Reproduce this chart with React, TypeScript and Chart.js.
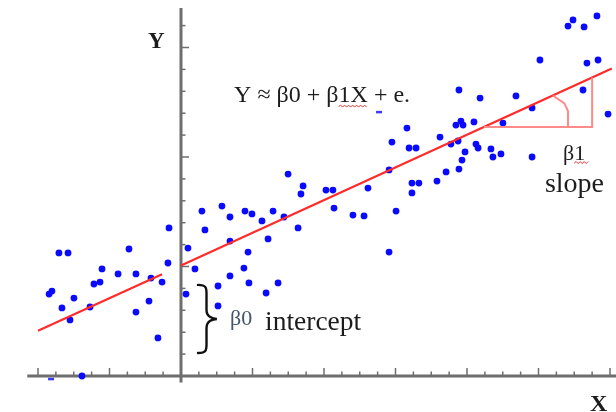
import React, { useEffect, useRef } from "react";
import { Chart, registerables } from "chart.js";
Chart.register(...registerables);

// Scatter observations (x in minor-tick units on X, y in minor-tick units on Y)
const pointsX = [-0.67,-6.83,-6.32,-2.91,-0.73,-4.42,-3.52,-2.52,-1.68,-4.87,-4.53,-1.06,-7.22,-7.38,-5.99,-1.79,-6.66,-5.09,-2.52,-6.21,-1.29,-5.54,
0.39,0.28,0.78,1.17,1.34,2.07,2.07,2.29,2.74,2.74,2.74,3.52,3.58,3.75,3.80,3.97,4.53,4.76,4.87,5.15,5.43,5.76,5.99,6.55,6.71,6.83,
8.11,8.50,8.56,9.62,10.24,10.46,11.64,11.64,12.03,12.92,13.31,12.92,11.80,12.64,12.76,13.15,
14.32,14.49,14.83,15.10,15.50,15.55,15.72,15.89,15.38,15.66,15.78,16.39,16.50,16.62,17.34,17.45,17.90,18.01,15.55,16.73,18.74,19.64,19.64,20.08,22.49,23.89,22.71,23.33,21.65,21.93,22.55,23.27];
const pointsY = [6.76,5.62,5.62,5.80,5.16,4.89,4.66,4.66,4.47,4.20,4.29,4.29,3.88,3.74,3.56,3.42,3.11,3.15,2.92,2.56,1.74,0,
5.84,3.74,4.89,7.53,6.67,4.11,3.20,7.76,7.26,6.16,4.57,4.93,7.53,5.66,4.25,7.40,7.08,3.79,6.26,7.53,4.25,7.26,9.22,6.76,8.31,8.68,
8.49,8.49,7.67,7.35,7.31,8.58,9.41,5.66,7.53,8.81,8.81,8.36,10.68,11.32,10.41,10.41,
8.90,10.91,9.32,10.59,10.73,9.45,9.86,10.23,11.46,11.64,11.46,11.60,10.59,10.41,10.37,10.00,10.14,11.55,13.06,12.69,12.79,12.24,10.00,14.43,13.06,11.96,14.29,14.43,15.98,16.26,15.94,16.44];
// partially hidden points
const hiddenX = [-7.27, 11.08];
const hiddenY = [-0.14, 12.05];

// Regression line (two segments)
const fitLeftX = [-8, -1.06];
const fitLeftY = [2.07, 4.65];
const fitRightX = [0, 24.1];
const fitRightY = [5.05, 14.04];

// Slope triangle and angle mark
const triX = [16.94, 23, 23];
const triY = [11.37, 11.37, 13.63];
const angX = [20.8, 21.45, 21.65, 21.65];
const angY = [12.81, 12.45, 12.1, 11.37];

// Axis ticks
const xTickValues = [-8,-7,-6,-5,-4,-3,-2,-1,1,2,3,4,5,6,7,8,9,10,11,12,13,14,15,16,17,18,19,20,21,22,23,24];
const yTickValues = [1,2,3,4,5,6,7,8,9,10,11,12,13,14,15,16];
const xMajorEvery = 4;
const yMajorEvery = 5;
const xAxisStart = -8.6;
const yAxisRange = [-0.3, 16.8];

const SERIF = '"Liberation Serif", "Times New Roman", serif';
const AXIS_COLOR = "#6e6e6e";
const TEXT_COLOR = "#1c1c1c";

const toXY = (xs: number[], ys: number[]) => xs.map((x, i) => ({ x, y: ys[i] }));

function squiggle(ctx: CanvasRenderingContext2D, x1: number, x2: number, y: number) {
  ctx.save();
  ctx.strokeStyle = "#e03030";
  ctx.lineWidth = 1;
  ctx.beginPath();
  let up = true;
  ctx.moveTo(x1, y);
  for (let x = x1 + 2; x <= x2; x += 2) {
    ctx.lineTo(x, up ? y - 1.5 : y + 0.5);
    up = !up;
  }
  ctx.stroke();
  ctx.restore();
}

const axesPlugin = {
  id: "crossAxes",
  beforeDatasetsDraw(chart: any) {
    const { ctx } = chart;
    const xs = chart.scales.x, ys = chart.scales.y;
    const x0 = xs.getPixelForValue(0), y0 = ys.getPixelForValue(0);
    ctx.save();
    ctx.strokeStyle = AXIS_COLOR;
    ctx.lineWidth = 1.5;
    xTickValues.forEach((v) => {
      const px = xs.getPixelForValue(v);
      const len = v % xMajorEvery === 0 ? 8 : 4.5;
      ctx.beginPath();
      ctx.moveTo(px, y0);
      ctx.lineTo(px, y0 - len);
      ctx.stroke();
    });
    yTickValues.forEach((v) => {
      const py = ys.getPixelForValue(v);
      const len = v % yMajorEvery === 0 ? 8 : 4.5;
      ctx.beginPath();
      ctx.moveTo(x0, py);
      ctx.lineTo(x0 + len, py);
      ctx.stroke();
    });
    ctx.lineWidth = 3;
    ctx.beginPath();
    ctx.moveTo(xs.getPixelForValue(xAxisStart), y0);
    ctx.lineTo(chart.width, y0);
    ctx.stroke();
    ctx.beginPath();
    ctx.moveTo(x0, ys.getPixelForValue(yAxisRange[0]));
    ctx.lineTo(x0, ys.getPixelForValue(yAxisRange[1]));
    ctx.stroke();
    ctx.restore();
  },
};

const textPlugin = {
  id: "annotations",
  afterDatasetsDraw(chart: any) {
    const { ctx } = chart;
    const xs = chart.scales.x, ys = chart.scales.y;
    const P = (x: number, y: number) => [xs.getPixelForValue(x), ys.getPixelForValue(y)];
    ctx.save();
    ctx.textAlign = "left";
    ctx.textBaseline = "alphabetic";

    // Y axis label
    let [px, py] = P(-1.85, 14.98);
    ctx.font = `bold 23px ${SERIF}`;
    ctx.fillStyle = TEXT_COLOR;
    ctx.fillText("Y", px, py);

    // equation
    [px, py] = P(2.97, 12.53);
    ctx.font = `24px ${SERIF}`;
    const eq = "Y ≈ β0 + β1X + e.";
    ctx.fillText(eq, px, py);
    const pre = ctx.measureText("Y ≈ β0 + β").width;
    const w1x = ctx.measureText("1X").width;
    squiggle(ctx, px + pre, px + pre + w1x, py + 5);

    // beta1 slope
    [px, py] = P(21.37, 9.86);
    ctx.font = `22px ${SERIF}`;
    ctx.fillStyle = TEXT_COLOR;
    ctx.fillText("β1", px, py);
    const wb = ctx.measureText("β").width;
    const w1 = ctx.measureText("1").width;
    squiggle(ctx, px + wb, px + wb + w1 + 3, py + 3);
    [px, py] = P(20.36, 8.4);
    ctx.font = `28px ${SERIF}`;
    ctx.fillStyle = TEXT_COLOR;
    ctx.fillText("slope", px, py);

    // brace
    const [L, T] = P(0.95, 4.16);
    const [R, B] = P(2.01, 1.05);
    const M = (T + B) / 2;
    const cx = L + (R - L) * 0.45;
    ctx.strokeStyle = "#111";
    ctx.lineWidth = 2.4;
    ctx.lineCap = "round";
    ctx.beginPath();
    ctx.moveTo(L, T);
    ctx.bezierCurveTo(cx + 1, T, cx, T + 4, cx, T + 12);
    ctx.lineTo(cx, M - 9);
    ctx.bezierCurveTo(cx, M - 2, R - 4, M, R, M);
    ctx.bezierCurveTo(R - 4, M, cx, M + 2, cx, M + 9);
    ctx.lineTo(cx, B - 12);
    ctx.bezierCurveTo(cx, B - 4, cx + 1, B, L, B);
    ctx.stroke();

    // beta0 intercept
    [px, py] = P(2.74, 2.33);
    ctx.font = `22px ${SERIF}`;
    ctx.fillStyle = "#43566a";
    ctx.fillText("β0", px, py);
    [px, py] = P(4.7, 2.1);
    ctx.font = `27.5px ${SERIF}`;
    ctx.fillStyle = TEXT_COLOR;
    ctx.fillText("intercept", px, py);

    // X axis label
    [px, py] = P(22.88, -1.6);
    ctx.font = `bold 24px ${SERIF}`;
    ctx.fillStyle = TEXT_COLOR;
    ctx.fillText("X", px, py);
    ctx.restore();
  },
};

export default function App() {
  const ref = useRef<HTMLCanvasElement>(null);
  useEffect(() => {
    if (!ref.current) return;
    const chart = new Chart(ref.current, {
      type: "scatter",
      data: {
        datasets: [
          {
            data: toXY(triX, triY),
            showLine: true,
            borderColor: "#ff8a8a",
            borderWidth: 2,
            pointRadius: 0,
          },
          {
            data: toXY(angX, angY),
            showLine: true,
            borderColor: "#ff8a8a",
            borderWidth: 2,
            pointRadius: 0,
          },
          {
            data: toXY(fitLeftX, fitLeftY),
            showLine: true,
            borderColor: "#ff2a2a",
            borderWidth: 2.2,
            pointRadius: 0,
          },
          {
            data: toXY(fitRightX, fitRightY),
            showLine: true,
            borderColor: "#ff2a2a",
            borderWidth: 2.2,
            pointRadius: 0,
          },
          {
            data: toXY(pointsX, pointsY),
            backgroundColor: "#0a0aff",
            borderWidth: 0,
            pointRadius: 3.4,
          },
          {
            data: toXY(hiddenX, hiddenY),
            pointStyle: "line",
            borderColor: "#3a3aff",
            borderWidth: 2.5,
            pointRadius: 3,
          },
        ],
      },
      options: {
        responsive: false,
        animation: false,
        devicePixelRatio: 1,
        layout: { padding: 0, autoPadding: false },
        clip: false as any,
        plugins: { legend: { display: false }, tooltip: { enabled: false } },
        scales: {
          x: { type: "linear", min: -181 / 17.875, max: (616 - 181) / 17.875, display: false },
          y: { type: "linear", min: -(412 - 376) / 21.9, max: 376 / 21.9, display: false },
        },
      },
      plugins: [axesPlugin, textPlugin],
    });
    return () => chart.destroy();
  }, []);
  return (
    <div style={{ position: "absolute", left: 0, top: 0, width: 616, height: 412, background: "#fff" }}>
      <canvas ref={ref} width={616} height={412} style={{ display: "block" }} />
    </div>
  );
}
